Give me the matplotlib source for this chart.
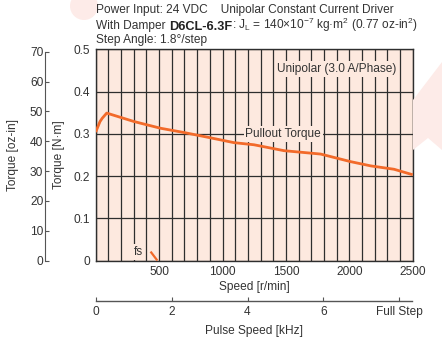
import matplotlib
matplotlib.use("Agg")
import matplotlib.pyplot as plt
from matplotlib.ticker import MultipleLocator, FixedLocator
from matplotlib.patches import Polygon, Ellipse

FONT = ["Liberation Sans Narrow", "Liberation Sans", "DejaVu Sans"]
plt.rcParams['font.family'] = FONT

# Data
speed_rpm = [0, 34, 52, 87, 302, 407, 513, 696, 880, 1091, 1248, 1485, 1774, 2011, 2169, 2353, 2500]
torque_nm = [0.304, 0.329, 0.337, 0.349, 0.329, 0.321, 0.313, 0.303, 0.292, 0.279, 0.274, 0.260, 0.252, 0.234, 0.224, 0.216, 0.203]
fs_speed = [438, 481]
fs_torque = [0.019, 0.002]
speed_ticks = [500, 1000, 1500, 2000, 2500]
pulse_ticks = [0, 2, 4, 6, 8]
pulse_labels = ['0', '2', '4', '6', 'Full Step']
ozin_ticks = [0, 10, 20, 30, 40, 50, 60, 70]
nm_ticks = [0, 0.1, 0.2, 0.3, 0.4, 0.5]
nm_labels = ['0', '0.1', '0.2', '0.3', '0.4', '0.5']

W, H = 442, 350
fig = plt.figure(figsize=(W / 100, H / 100), dpi=100)
fig.patch.set_facecolor('white')

TXT = '#333333'
FACE = '#fde9df'
GRID = '#2e2e2e'
ORANGE = '#f26a2a'
WM = '#fdebe8'
FS = 8.6


def fx(px):
    return px / W


def fy(py):
    return 1 - py / H


# faint watermark decorations (figure background)
fig.patches.append(Polygon([(fx(413), fy(100)), (fx(442), fy(62)), (fx(442), fy(150)),
                            (fx(428), fy(138)), (fx(413), fy(150))],
                           closed=True, transform=fig.transFigure,
                           facecolor=WM, edgecolor='none', zorder=0))
fig.patches.append(Ellipse((fx(84), fy(6)), 28 / W, 28 / H, transform=fig.transFigure,
                           facecolor=WM, edgecolor='none', zorder=0))

L, R, T, B = 95.7, 412.7, 49.3, 260.5
ax = fig.add_axes([fx(L), fy(B), fx(R) - fx(L), fy(T) - fy(B)])
ax.set_facecolor(FACE)
ax.set_xlim(0, 2500)
ax.set_ylim(0, 0.5)
ax.xaxis.set_major_locator(FixedLocator(speed_ticks))
ax.xaxis.set_minor_locator(MultipleLocator(100))
ax.yaxis.set_major_locator(FixedLocator(nm_ticks))
ax.set_yticklabels(nm_labels)
ax.grid(True, which='both', axis='x', color=GRID, lw=0.9, zorder=1)
ax.grid(True, which='major', axis='y', color=GRID, lw=0.9, zorder=1)
ax.set_axisbelow(True)
ax.tick_params(axis='both', which='both', length=0, labelsize=FS, colors=TXT, pad=4)
for s in ax.spines.values():
    s.set_color(GRID)
    s.set_linewidth(1.0)
ax.set_xlabel('Speed [r/min]', fontsize=FS, color=TXT, labelpad=2)
ax.set_ylabel('Torque [N·m]', fontsize=FS, color=TXT, labelpad=6)

ax.plot(speed_rpm, torque_nm, color=ORANGE, lw=2.0, zorder=4, solid_capstyle='butt')
ax.plot(fs_speed, fs_torque, color=ORANGE, lw=1.6, zorder=4)

bb = dict(boxstyle='square,pad=0.15', facecolor=FACE, edgecolor='none')
ax.text(1900, 0.453, 'Unipolar (3.0 A/Phase)', fontsize=FS, color=TXT,
        ha='center', va='center', bbox=bb, zorder=3)
ax.text(1480, 0.3, 'Pullout Torque', fontsize=FS, color=TXT,
        ha='center', va='center', bbox=bb, zorder=3)
ax.text(340, 0.02, 'fs', fontsize=FS, color=TXT, ha='center', va='center',
        bbox=bb, zorder=3)

# Pulse speed axis
pax = fig.add_axes([fx(L), fy(300.7), fx(412.0) - fx(L), 0.001])
pax.set_xlim(0, 2500 / 60 * 200 / 1000)
pax.set_ylim(0, 1)
pax.patch.set_visible(False)
for k in ['top', 'left', 'right']:
    pax.spines[k].set_visible(False)
pax.spines['bottom'].set_color('#555555')
pax.spines['bottom'].set_linewidth(1.0)
pax.set_yticks([])
pax.set_xticks(pulse_ticks)
pax.set_xticklabels(pulse_labels)
pax.tick_params(axis='x', direction='in', length=3, color='#555555',
                labelsize=FS, labelcolor=TXT, pad=4)
pax.set_xlabel('Pulse Speed [kHz]', fontsize=FS, color=TXT, labelpad=5)

# oz-in axis
oax = fig.add_axes([fx(45.3), fy(B), 0.001, fy(T) - fy(B)])
oax.set_ylim(0, 0.5 * 141.6)
oax.patch.set_visible(False)
for k in ['top', 'bottom', 'right']:
    oax.spines[k].set_visible(False)
oax.spines['left'].set_color('#555555')
oax.spines['left'].set_bounds(0, 70)
oax.set_xticks([])
oax.set_yticks(ozin_ticks)
oax.tick_params(axis='y', direction='in', length=3, color='#555555',
                labelsize=FS, labelcolor=TXT, pad=1.5)
oax.set_ylabel('Torque [oz-in]', fontsize=FS, color=TXT, labelpad=8)

# Header
x0 = fx(96.3)
fig.text(x0, fy(9.5), 'Power Input: 24 VDC    Unipolar Constant Current Driver',
         fontsize=FS, color=TXT, ha='left', va='center')
t1 = fig.text(x0, fy(29.5), 'With Damper ', fontsize=FS, color=TXT, ha='left', va='baseline')
t2 = fig.text(0, 0, 'D6CL-6.3F', fontsize=FS + 0.6, color='#222222', fontweight='bold',
              family=['Liberation Sans', 'DejaVu Sans'], va='baseline')
fig.canvas.draw()
r = fig.canvas.get_renderer()
e1 = t1.get_window_extent(r)
t2.set_position((e1.x1 / fig.bbox.width, fy(29.5)))
fig.canvas.draw()
e2 = t2.get_window_extent(r)
fig.text(e2.x1 / fig.bbox.width, fy(29.5),
         r': J$_\mathregular{L}$ = 140×10$^\mathregular{-7}$ kg·m$^\mathregular{2}$ (0.77 oz-in$^\mathregular{2}$)',
         fontsize=FS, color=TXT, ha='left', va='baseline')
fig.text(x0, fy(40.5), 'Step Angle: 1.8°/step', fontsize=FS, color=TXT, ha='left', va='center')

fig.savefig('out.png', dpi=100, facecolor='white')
